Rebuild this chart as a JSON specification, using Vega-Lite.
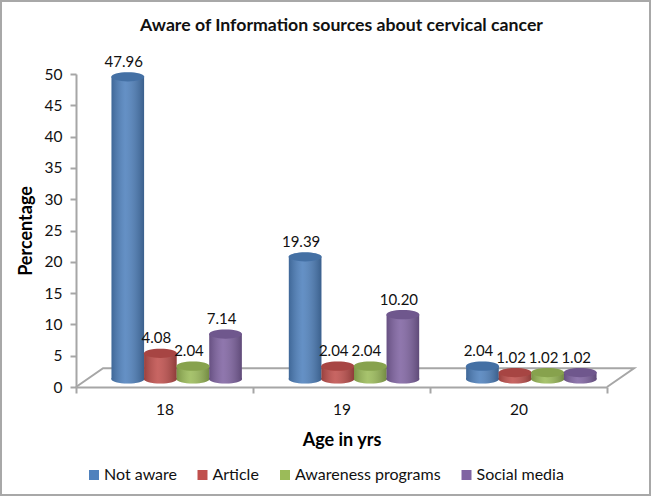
{
"$schema":"https://vega.github.io/schema/vega-lite/v6.json",
"width":651,"height":496,"padding":0,"autosize":"none","background":"white",
"title":{"text":"Aware of Information sources about cervical cancer","font":"Lato","fontSize":17.7,"fontWeight":"bold","color":"#111111","anchor":"middle","frame":"group","dx":16,"offset":-35},
"config":{"view":{"stroke":"#a8a8a8","strokeWidth":4,"fill":"white"},
 "axis":{"labelFont":"Lato","labelFontSize":15.5,"labelColor":"#111111","titleFont":"Lato","titleFontSize":18,"titleFontWeight":"bold","titleColor":"#000000","domainColor":"#a6a6a6","domainWidth":2,"tickColor":"#a6a6a6","tickWidth":2,"grid":false}},
"datasets":{
 "survey":[
  {"age":"18","source":"Not aware","pct":47.96},{"age":"18","source":"Article","pct":4.08},{"age":"18","source":"Awareness programs","pct":2.04},{"age":"18","source":"Social media","pct":7.14},
  {"age":"19","source":"Not aware","pct":19.39},{"age":"19","source":"Article","pct":2.04},{"age":"19","source":"Awareness programs","pct":2.04},{"age":"19","source":"Social media","pct":10.20},
  {"age":"20","source":"Not aware","pct":2.04},{"age":"20","source":"Article","pct":1.02},{"age":"20","source":"Awareness programs","pct":1.02},{"age":"20","source":"Social media","pct":1.02}],
 "floor":[{"i":0,"fx":0,"fy":0},{"i":1,"fx":0.153,"fy":3},{"i":2,"fx":3.153,"fy":3},{"i":3,"fx":3,"fy":0}]
},
"layer":[
 {"data":{"name":"floor"},"mark":{"type":"line","color":"#a6a6a6","strokeWidth":2,"clip":false},
  "encoding":{"order":{"field":"i"},
   "x":{"field":"fx","type":"quantitative","axis":null,"scale":{"domain":[0,3],"range":[76,607],"nice":false,"zero":false}},
   "y":{"field":"fy","type":"quantitative","axis":null,"scale":{"domain":[0,50],"range":[387,74],"nice":false}}}},
 {"data":{"name":"survey"},"mark":{"type":"tick","opacity":0},
  "encoding":{
   "x":{"field":"age","type":"nominal","title":"Age in yrs","scale":{"range":[76,607],"paddingInner":0,"paddingOuter":0},
     "axis":{"offset":-109,"labelAngle":0,"tickBand":"extent","tickSize":6,"labelPadding":9,"titlePadding":14}},
   "y":{"field":"pct","type":"quantitative","title":"Percentage","scale":{"domain":[0,50],"range":[387,74],"nice":false},
     "axis":{"offset":-76,"values":[0,5,10,15,20,25,30,35,40,45,50],"tickSize":6,"labelPadding":8,"titlePadding":9}}}},
 {"data":{"name":"survey"},
  "encoding":{
   "x":{"field":"age","type":"nominal","axis":null,"scale":{"range":[88,620],"paddingInner":0.265,"paddingOuter":0.1325}},
   "xOffset":{"field":"source","type":"nominal","sort":["Not aware","Article","Awareness programs","Social media"],"scale":{"domain":["Not aware","Article","Awareness programs","Social media"]}},
   "y":{"field":"pct","type":"quantitative","axis":null,"scale":{"domain":[0,50],"range":[379,64],"nice":false}}},
  "layer":[
   {"mark":{"type":"point","filled":true,"opacity":1,"size":1089,"shape":"M-1,0A1,0.28,0,1,0,1,0A1,0.28,0,1,0,-1,0Z"},
    "encoding":{"y":{"datum":0,"type":"quantitative"},
     "color":{"field":"source","type":"nominal","title":null,
      "scale":{"domain":["Not aware","Article","Awareness programs","Social media"],"range":["#4f81bd","#c0504d","#9bbb59","#8064a2"]},
      "legend":{"orient":"none","legendX":86,"legendY":467,"direction":"horizontal","columns":4,"columnPadding":17.5,"symbolType":"square","symbolSize":100,"symbolStrokeWidth":0,"labelFont":"Lato","labelFontSize":16,"labelColor":"#111111","labelOffset":2,"symbolOpacity":1}}}},
   {"mark":{"type":"point","filled":true,"opacity":1,"size":1089,"fill":{"gradient":"linear","x1":0,"y1":0,"x2":1,"y2":0,"stops":[{"offset":0,"color":"rgba(0,0,0,0.2)"},{"offset":0.42,"color":"rgba(255,255,255,0.12)"},{"offset":1,"color":"rgba(0,0,0,0.26)"}]},"shape":"M-1,0A1,0.28,0,1,0,1,0A1,0.28,0,1,0,-1,0Z"},
    "encoding":{"y":{"datum":0,"type":"quantitative"}}},
   {"mark":{"type":"bar","opacity":1},
    "encoding":{"color":{"field":"source","type":"nominal"},"y2":{"datum":0}}},
   {"mark":{"type":"bar","opacity":1,"fill":{"gradient":"linear","x1":0,"y1":0,"x2":1,"y2":0,"stops":[{"offset":0,"color":"rgba(0,0,0,0.2)"},{"offset":0.42,"color":"rgba(255,255,255,0.12)"},{"offset":1,"color":"rgba(0,0,0,0.26)"}]}},
    "encoding":{"y2":{"datum":0}}},
   {"mark":{"type":"point","filled":true,"opacity":1,"size":1089,"shape":"M-1,0A1,0.28,0,1,0,1,0A1,0.28,0,1,0,-1,0Z"},
    "encoding":{"color":{"field":"source","type":"nominal"}}},
   {"mark":{"type":"point","filled":true,"opacity":1,"size":1089,"fill":"rgba(0,0,0,0.13)","shape":"M-1,0A1,0.28,0,1,0,1,0A1,0.28,0,1,0,-1,0Z"}},
   {"mark":{"type":"text","font":"Lato","fontSize":15,"color":"#111111","dx":-4,"dy":-15},
    "encoding":{"text":{"field":"pct","type":"quantitative","format":".2f"}}}
  ]}
],
"resolve":{"scale":{"x":"independent","y":"independent"},"axis":{"x":"independent","y":"independent"}}
}
